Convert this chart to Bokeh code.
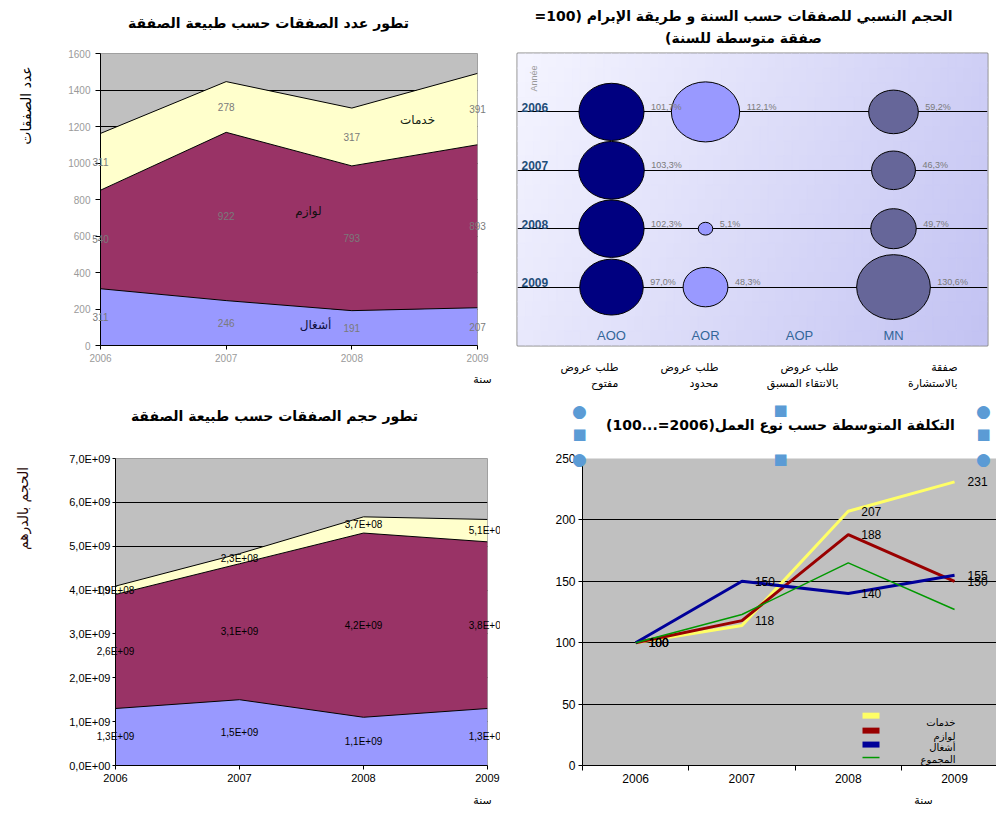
import numpy as np
from bokeh.plotting import figure
from bokeh.models import (ColumnDataSource, Range1d, FixedTicker, CustomJSTickFormatter)
from bokeh.layouts import row, column
from bokeh.core.properties import value
from bokeh.embed import file_html
from bokeh.resources import INLINE

# ---------------- data ----------------
years = [2006, 2007, 2008, 2009]

# panel 1 : number of contracts by nature
nature_names = ["أشغال", "لوازم", "خدمات"]
count_works = [311, 246, 191, 207]
count_supplies = [540, 922, 793, 893]
count_services = [311, 278, 317, 391]
count_ticks = [0, 200, 400, 600, 800, 1000, 1200, 1400, 1600]

# panel 2 : relative size by award method (100 = average contract of the year)
methods = ["AOO", "AOR", "AOP", "MN"]
method_line1 = ["طلب عروض", "طلب عروض", "طلب عروض", "صفقة"]
method_line2 = ["مفتوح", "محدود", "بالانتقاء المسبق", "بالاستشارة"]
rel_aoo = [101.7, 103.3, 102.3, 97.0]
rel_aor = [112.1, None, 5.1, 48.3]
rel_aop = [None, None, None, None]
rel_mn = [59.2, 46.3, 49.7, 130.6]

# panel 3 : volume of contracts (MAD)
vol_works = [1.3e9, 1.5e9, 1.1e9, 1.3e9]
vol_supplies = [2.6e9, 3.1e9, 4.2e9, 3.8e9]
vol_services = [1.9e8, 2.3e8, 3.7e8, 5.1e8]
vol_ticks = [0, 1000000000, 2000000000, 3000000000, 4000000000,
             5000000000, 6000000000, 7000000000]

# panel 4 : average cost by type of work (2006 = 100)
cost_names = ["خدمات", "لوازم", "أشغال", "المجموع"]
cost_services = [100, 114, 207, 231]
cost_supplies = [100, 118, 188, 150]
cost_works = [100, 150, 140, 155]
cost_total = [100, 123, 165, 127]
cost_ticks = [0, 50, 100, 150, 200, 250]

# ---------------- helpers ----------------
LAT = "Liberation Sans"
AR = "DejaVu Sans"
GRAY_BG = "#C0C0C0"
C_WORKS, C_SUPP, C_SERV = "#9999FF", "#993366", "#FFFFCC"
RLM = "\u200F"


def rtl(s):
    return RLM + s + RLM


def to_data(g, xp, yp):
    (l, t, r, b), (x0, x1), (y0, y1) = g
    return (x0 + (xp - l) / (r - l) * (x1 - x0),
            y0 + (b - yp) / (b - t) * (y1 - y0))


def txt(p, g, xp, yp, text, size=11, color="black", bold=False, align="center",
        baseline="middle", angle=0.0, font=AR):
    x, y = to_data(g, xp, yp)
    p.text(x=[x], y=[y], text=[text], text_font=value(font), text_font_size=value(f"{size}px"),
           text_color=color, text_font_style="bold" if bold else "normal",
           text_align=align, text_baseline=baseline, angle=angle, level="overlay")


def base_fig(W, H, frame, xr, yr, bg, axes=True):
    l, t, r, b = frame
    kw = {} if axes else dict(x_axis_type=None, y_axis_type=None)
    p = figure(width=W, height=H, x_range=Range1d(*xr), y_range=Range1d(*yr),
               output_backend="svg", toolbar_location=None,
               min_border_left=l, min_border_right=W - r, min_border_top=t,
               min_border_bottom=H - b, background_fill_color=bg,
               border_fill_color="white", outline_line_color=None, **kw)
    return p


def style_axis(ax, color, size, tick_out=4, standoff=4):
    ax.axis_line_color = "black"
    ax.major_tick_line_color = "black"
    ax.minor_tick_line_color = None
    ax.major_tick_out = tick_out
    ax.major_tick_in = 0
    ax.major_label_text_color = color
    ax.major_label_text_font = LAT
    ax.major_label_text_font_size = f"{size}px"
    ax.major_label_standoff = standoff


def stacked_labels(stack, fmt):
    xs, ys, ts = [], [], []
    base = np.zeros(len(years))
    for ser in stack:
        arr = np.array(ser, dtype=float)
        for i, yr in enumerate(years):
            xs.append(yr)
            ys.append(base[i] + arr[i] / 2)
            ts.append(fmt(ser[i]))
        base += arr
    return ColumnDataSource(dict(x=xs, y=ys, t=ts))


def sci(v):
    return f"{v:.1E}".replace(".", ",")


# ================= panel 1 =================
g1 = ((100, 53, 477, 345), (2006, 2009), (0, 1600))
p1 = base_fig(500, 400, *g1, GRAY_BG)
p1.outline_line_color = "#A0A0A0"
t1y = FixedTicker(ticks=count_ticks)
p1.xaxis.ticker = FixedTicker(ticks=years)
p1.yaxis.ticker = t1y
p1.ygrid.ticker = t1y
p1.xgrid.visible = False
p1.ygrid.grid_line_color = "black"
style_axis(p1.xaxis[0], "#9a9a9a", 10, 4, 4)
style_axis(p1.yaxis[0], "#9a9a9a", 10, 5, 5)

src1 = ColumnDataSource(dict(year=years, works=count_works, supplies=count_supplies,
                             services=count_services))
p1.varea_stack(["works", "supplies", "services"], x="year",
               color=[C_WORKS, C_SUPP, C_SERV], source=src1)
p1.vline_stack(["works", "supplies", "services"], x="year", color="black",
               line_width=1, source=src1)
p1.text(x="x", y="y", text="t",
        source=stacked_labels([count_works, count_supplies, count_services], str),
        text_align="center", text_baseline="middle", text_font=value(LAT),
        text_font_size=value("10px"), text_color="#7a7a7a", level="overlay")
txt(p1, g1, 315, 324, nature_names[0], 12, "#101040")
txt(p1, g1, 308, 210, nature_names[1], 12, "#101010")
txt(p1, g1, 417, 119, nature_names[2], 12, "#102010")
txt(p1, g1, 268, 22, rtl("تطور عدد الصفقات حسب طبيعة الصفقة"), 14, bold=True)
txt(p1, g1, 25, 105, rtl("عدد الصفقات"), 14, angle=np.pi / 2)
txt(p1, g1, 482, 379, "سنة", 11)

# ================= panel 2 =================
g2 = ((17, 52, 487, 345), (-1, 4), (2010, 2005))
p2 = base_fig(496, 400, *g2, "#DCDCFA", axes=False)
p2.outline_line_color = "#8a8a8a"
p2.outline_line_width = 2

# gradient background
nx, ny = 60, 20
gx = np.linspace(-1, 4, nx + 1)
gy = np.linspace(2005, 2010, ny + 1)
c0, c1 = np.array([245, 245, 255]), np.array([194, 194, 242])
ql, qr, qt, qb, qc = [], [], [], [], []
for i in range(nx):
    for j in range(ny):
        tt = 0.75 * (i + 0.5) / nx + 0.25 * (j + 0.5) / ny
        c = np.round(c0 + (c1 - c0) * tt).astype(int)
        ql.append(gx[i]); qr.append(gx[i + 1]); qt.append(gy[j]); qb.append(gy[j + 1])
        qc.append("#%02x%02x%02x" % tuple(c))
p2.quad(left=ql, right=qr, top=qt, bottom=qb, fill_color=qc, line_color=qc, line_width=1)

p2.hspan(y=years, line_color="black", line_width=1.2)

rel = {"AOO": rel_aoo, "AOR": rel_aor, "AOP": rel_aop, "MN": rel_mn}
bcol = {"AOO": "#000080", "AOR": "#9999FF", "AOP": "#CC99FF", "MN": "#666699"}
bx, by, bw, bh, bc, bt, bo = [], [], [], [], [], [], []
for ci, m in enumerate(methods):
    for yi, yr in enumerate(years):
        v = rel[m][yi]
        if v is None:
            continue
        d = 6.45 * np.sqrt(v)
        bx.append(ci); by.append(yr); bw.append(d); bh.append(0.88 * d)
        bc.append(bcol[m]); bt.append(f"{v:.1f}%".replace(".", ",")); bo.append(d / 2 + 7)
src2 = ColumnDataSource(dict(x=bx, y=by, w=bw, h=bh, c=bc, t=bt, off=bo))
p2.ellipse(x="x", y="y", width="w", height="h", width_units="screen", height_units="screen",
           fill_color="c", line_color="black", line_width=1, source=src2)
p2.text(x="x", y="y", text="t", x_offset="off", source=src2,
        text_align="left", text_baseline="bottom", text_font=value(LAT),
        text_font_size=value("9px"), text_color="#7a7a7a", level="overlay")

xl, _ = to_data(g2, 21, 0)
p2.text(x=[xl] * len(years), y=years, text=[str(y) for y in years], text_font=value(LAT),
        text_font_size=value("12px"), text_font_style="bold", text_color="#1F4E79",
        text_align="left", text_baseline="bottom", level="overlay")
_, ycl = to_data(g2, 0, 335)
p2.text(x=list(range(len(methods))), y=[ycl] * len(methods), text=methods,
        text_font=value(LAT), text_font_size=value("13px"), text_color="#336699",
        text_align="center", text_baseline="middle", level="overlay")
txt(p2, g2, 33, 77, "Année", 9, "#999999", angle=np.pi / 2, font=LAT)
right_edges = [118, 218, 338, 457]
for ci in range(len(methods)):
    txt(p2, g2, right_edges[ci], 367, rtl(method_line1[ci]), 11, align="right")
    txt(p2, g2, right_edges[ci], 383, rtl(method_line2[ci]), 11, align="right")
txt(p2, g2, 243, 14, rtl("الحجم النسبي للصفقات حسب السنة و طريقة الإبرام (100="), 14, bold=True)
txt(p2, g2, 243, 36, rtl("صفقة متوسطة للسنة)"), 14, bold=True)

# ================= panel 3 =================
g3 = ((115, 58, 487, 365), (2006, 2009), (0, 7e9))
p3 = base_fig(500, 416, *g3, GRAY_BG)
p3.outline_line_color = "#A0A0A0"
t3y = FixedTicker(ticks=vol_ticks)
p3.xaxis.ticker = FixedTicker(ticks=years)
p3.yaxis.ticker = t3y
p3.ygrid.ticker = t3y
p3.xgrid.visible = False
p3.ygrid.grid_line_color = "black"
p3.yaxis.formatter = CustomJSTickFormatter(code="""
const s = tick.toExponential(1).split('e');
let e = parseInt(s[1]);
const sign = e < 0 ? '-' : '+';
e = Math.abs(e);
return s[0].replace('.', ',') + 'E' + sign + (e < 10 ? '0' + e : '' + e);
""")
style_axis(p3.xaxis[0], "black", 11, 4, 4)
style_axis(p3.yaxis[0], "black", 11, 3, 2)
src3 = ColumnDataSource(dict(year=years, works=vol_works, supplies=vol_supplies,
                             services=vol_services))
p3.varea_stack(["works", "supplies", "services"], x="year",
               color=[C_WORKS, C_SUPP, C_SERV], source=src3)
p3.vline_stack(["works", "supplies", "services"], x="year", color="black",
               line_width=1, source=src3)
p3.text(x="x", y="y", text="t",
        source=stacked_labels([vol_works, vol_supplies, vol_services], sci),
        text_align="center", text_baseline="middle", text_font=value(LAT),
        text_font_size=value("10px"), text_color="black", level="overlay")
txt(p3, g3, 274, 15, rtl("تطور حجم الصفقات حسب طبيعة الصفقة"), 14, bold=True)
txt(p3, g3, 22, 108, rtl("الحجم بالدرهم"), 14, "#2a0a0a", angle=np.pi / 2)
txt(p3, g3, 482, 400, "سنة", 11)

# ================= panel 4 =================
cat_w = 106.3
g4 = ((82, 57, 496, 365), (years[0] - 0.5, years[0] - 0.5 + 414 / cat_w), (0, 250))
p4 = base_fig(496, 416, *g4, GRAY_BG)
t4y = FixedTicker(ticks=cost_ticks)
p4.xaxis.ticker = FixedTicker(ticks=years, minor_ticks=[y - 0.5 for y in years] + [years[-1] + 0.5])
p4.xaxis.major_label_overrides = {y: str(y) for y in years}
p4.yaxis.ticker = t4y
p4.ygrid.ticker = t4y
p4.xgrid.visible = False
p4.ygrid.grid_line_color = "black"
style_axis(p4.xaxis[0], "black", 12, 4, 3)
style_axis(p4.yaxis[0], "black", 12, 4, 3)
p4.xaxis.major_tick_line_color = None
p4.xaxis.minor_tick_line_color = "black"
p4.xaxis.minor_tick_out = 5
p4.xaxis.minor_tick_in = 0

series4 = [cost_services, cost_supplies, cost_works, cost_total]
colors4 = ["#FFFF66", "#990000", "#000099", "#009900"]
widths4 = [3, 3, 3, 1.5]
for ser, col, lw in zip(series4, colors4, widths4):
    p4.line(years, ser, line_color=col, line_width=lw)

show_lab = [[True, False, True, True], [True] * 4, [True] * 4]
lx4, ly4, lt4 = [], [], []
for ser, mask in zip(series4[:3], show_lab):
    for i, yr in enumerate(years):
        if mask[i]:
            lx4.append(yr); ly4.append(ser[i]); lt4.append(str(ser[i]))
p4.text(x="x", y="y", text="t", x_offset=13, source=ColumnDataSource(dict(x=lx4, y=ly4, t=lt4)),
        text_align="left", text_baseline="middle", text_font=value(LAT),
        text_font_size=value("12px"), text_color="black", level="overlay")

# legend
sw_y = [315, 330, 344, 357]
tx_y = [322, 336, 347, 359]
for k in range(4):
    x0, yc = to_data(g4, 362, sw_y[k])
    x1, _ = to_data(g4, 379, sw_y[k])
    if k < 3:
        _, yt = to_data(g4, 0, sw_y[k] - 3)
        _, yb = to_data(g4, 0, sw_y[k] + 3)
        p4.quad(left=[x0], right=[x1], top=[yt], bottom=[yb], fill_color=colors4[k],
                line_color=None)
    else:
        p4.line([x0, x1], [yc, yc], line_color=colors4[k], line_width=1.5)
    txt(p4, g4, 455, tx_y[k], cost_names[k], 10, align="right")

txt(p4, g4, 280, 23, rtl("التكلفة المتوسطة حسب نوع العمل(2006=...100)"), 14, bold=True)
txt(p4, g4, 423, 400, "سنة", 11)
# selection handles around the title (drawn as text glyphs so they show outside the frame)
for (hx, hy) in [(79, 9), (483, 9), (79, 57), (483, 57)]:
    txt(p4, g4, hx, hy, "●", 17, "#5B9BD5", font="DejaVu Sans")
for (hx, hy) in [(280, 8), (79, 32), (483, 32), (280, 57)]:
    txt(p4, g4, hx, hy, "■", 15, "#5B9BD5", font="DejaVu Sans")

layout = column(row(p1, p2), row(p3, p4))
open("out.html", "w").write(file_html(layout, INLINE))
